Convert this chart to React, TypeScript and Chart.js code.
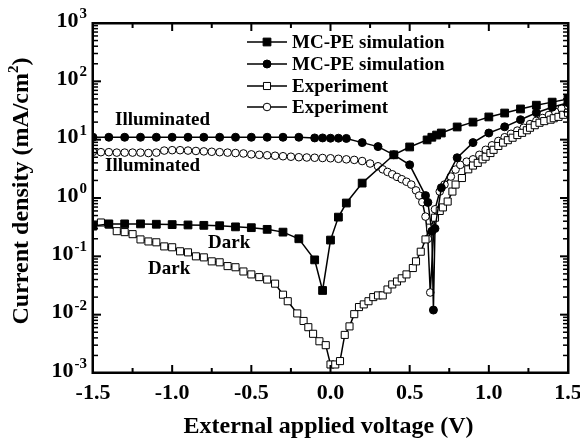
import React, { useEffect, useRef } from 'react';
import { Chart, registerables } from 'chart.js';

Chart.register(...registerables);

// ---------- data ----------
const simDarkV = [-1.5, -1.4, -1.3, -1.2, -1.1, -1.0, -0.9, -0.8, -0.7, -0.6, -0.5, -0.4, -0.3, -0.2, -0.1, -0.05, 0.0, 0.05, 0.1, 0.2, 0.4, 0.5, 0.61, 0.64, 0.67, 0.7, 0.8, 0.9, 1.0, 1.1, 1.2, 1.3, 1.4, 1.5];
const simDarkJ = [0.33, 0.36, 0.36, 0.36, 0.355, 0.35, 0.345, 0.34, 0.335, 0.32, 0.31, 0.29, 0.26, 0.2, 0.087, 0.026, 0.19, 0.47, 0.82, 1.8, 5.5, 7.5, 9.9, 11, 12, 13, 16.5, 20, 24.5, 28.6, 33.6, 39, 44, 50];

const simIllumV = [-1.5, -1.4, -1.3, -1.2, -1.1, -1.0, -0.9, -0.8, -0.7, -0.6, -0.5, -0.4, -0.3, -0.2, -0.1, -0.05, 0.0, 0.05, 0.1, 0.2, 0.3, 0.4, 0.5, 0.6, 0.615, 0.64, 0.65, 0.66, 0.7, 0.8, 0.9, 1.0, 1.1, 1.2, 1.3, 1.4, 1.5];
const simIllumJ = [11, 11, 11, 11, 11, 11, 11, 11, 11, 11, 11, 11, 11, 11, 10.7, 10.7, 10.6, 10.6, 10.5, 8.9, 7.6, 5.5, 3.7, 1.1, 0.84, 0.27, 0.012, 0.3, 1.5, 4.9, 8.9, 13, 16.6, 22, 29, 36, 43];

const expDarkV = [-1.5, -1.45, -1.4, -1.35, -1.3, -1.25, -1.2, -1.15, -1.1, -1.05, -1.0, -0.95, -0.9, -0.85, -0.8, -0.75, -0.7, -0.65, -0.6, -0.55, -0.5, -0.45, -0.4, -0.35, -0.3, -0.27, -0.21, -0.17, -0.14, -0.11, -0.07, -0.03, 0.0, 0.03, 0.06, 0.09, 0.12, 0.15, 0.18, 0.21, 0.24, 0.27, 0.3, 0.33, 0.36, 0.39, 0.42, 0.45, 0.48, 0.52, 0.54, 0.57, 0.6, 0.63, 0.66, 0.69, 0.71, 0.74, 0.77, 0.79, 0.83, 0.87, 0.9, 0.93, 0.96, 0.98, 1.01, 1.03, 1.06, 1.09, 1.12, 1.15, 1.18, 1.21, 1.24, 1.26, 1.29, 1.32, 1.35, 1.39, 1.41, 1.44, 1.47, 1.5];
const expDarkJ = [0.33, 0.38, 0.35, 0.27, 0.26, 0.24, 0.195, 0.18, 0.174, 0.148, 0.143, 0.122, 0.117, 0.1, 0.096, 0.082, 0.079, 0.068, 0.065, 0.055, 0.049, 0.044, 0.04, 0.034, 0.022, 0.017, 0.0105, 0.0078, 0.0061, 0.0047, 0.0035, 0.003, 0.0014, 0.0014, 0.0016, 0.0045, 0.0063, 0.0102, 0.0135, 0.015, 0.017, 0.02, 0.0214, 0.0214, 0.027, 0.033, 0.037, 0.042, 0.049, 0.063, 0.082, 0.12, 0.195, 0.31, 0.46, 0.6, 0.69, 0.87, 1.29, 1.7, 2.2, 3.1, 3.6, 4.0, 4.6, 5.1, 5.9, 6.7, 7.8, 8.9, 9.8, 10.8, 12, 13.1, 14.5, 16, 17.7, 19.5, 20.8, 22, 23.3, 24.6, 26.7, 28.9];

const expIllumV = [-1.5, -1.45, -1.4, -1.35, -1.3, -1.25, -1.2, -1.15, -1.1, -1.05, -1.0, -0.95, -0.9, -0.85, -0.8, -0.75, -0.7, -0.65, -0.6, -0.55, -0.5, -0.45, -0.4, -0.35, -0.3, -0.25, -0.2, -0.15, -0.1, -0.05, 0.0, 0.05, 0.1, 0.15, 0.2, 0.25, 0.3, 0.33, 0.36, 0.39, 0.42, 0.45, 0.48, 0.51, 0.54, 0.56, 0.58, 0.6, 0.615, 0.63, 0.66, 0.69, 0.72, 0.76, 0.79, 0.82, 0.86, 0.9, 0.94, 0.98, 1.02, 1.06, 1.1, 1.14, 1.18, 1.22, 1.26, 1.3, 1.34, 1.38, 1.42, 1.46, 1.5];
const expIllumJ = [6.2, 6.1, 6.1, 6.0, 6.0, 6.0, 6.0, 5.9, 6.0, 6.5, 6.6, 6.6, 6.5, 6.4, 6.3, 6.2, 6.1, 6.0, 5.9, 5.8, 5.6, 5.5, 5.4, 5.3, 5.2, 5.1, 5.0, 4.95, 4.9, 4.85, 4.8, 4.7, 4.6, 4.5, 4.3, 3.9, 3.5, 3.1, 2.8, 2.55, 2.3, 2.1, 1.9, 1.7, 1.35, 1.1, 0.85, 0.48, 0.2, 0.024, 0.64, 1.29, 1.7, 2.33, 3.07, 3.7, 4.2, 4.6, 5.5, 6.7, 8.0, 9.5, 11, 12.6, 14.3, 16, 18.5, 21, 23.5, 26.5, 30, 34, 38];

const yDecades = [0.001, 0.01, 0.1, 1, 10, 100, 1000];

const legendLabels = ['MC-PE simulation', 'MC-PE simulation', 'Experiment', 'Experiment'];
const xTitle = 'External applied voltage (V)';
const yTitleMain = 'Current density (mA/cm';
const yTitleSup = '2';
const yTitleEnd = ')';
const noteIllum = 'Illuminated';
const noteDark = 'Dark';

const FONT = '"Liberation Serif", "Times New Roman", serif';

const pts = (V: number[], J: number[]) => V.map((v, i) => ({ x: v, y: J[i] }));

function drawMarker(ctx: CanvasRenderingContext2D, style: string, filled: boolean, x: number, y: number, r: number) {
  ctx.beginPath();
  if (style === 'rect') {
    const s = r * Math.SQRT1_2;
    ctx.rect(x - s, y - s, 2 * s, 2 * s);
  } else {
    ctx.arc(x, y, r, 0, Math.PI * 2);
  }
  ctx.fillStyle = filled ? '#000' : '#fff';
  ctx.fill();
  ctx.lineWidth = 1;
  ctx.strokeStyle = '#000';
  ctx.stroke();
}

// frame + ticks, drawn after the datasets
const framePlugin = {
  id: 'frameTicks',
  afterDatasetsDraw(chart: any) {
    const ctx: CanvasRenderingContext2D = chart.ctx;
    const a = chart.chartArea;
    const xs = chart.scales.x;
    const ys = chart.scales.y;
    const L = a.left, R = a.right, T = a.top, B = a.bottom;
    ctx.save();
    ctx.fillStyle = 'rgb(0,0,0)';
    ctx.fillRect(L - 1, T - 1, R - L + 2, 2.5);
    ctx.fillRect(L - 1, B - 1.5, R - L + 2, 2.5);
    ctx.fillRect(L - 1.5, T - 1, 2.5, B - T + 2);
    ctx.fillRect(R - 1, T - 1, 2.5, B - T + 2);
    const xt: number[] = xs.ticks.map((t: any) => t.value);
    for (let i = 0; i < xt.length; i++) {
      const px = xs.getPixelForValue(xt[i]);
      ctx.fillRect(px - 1, B - 8, 2, 8);
      ctx.fillRect(px - 1, T, 2, 8);
      if (i < xt.length - 1) {
        const m = xs.getPixelForValue((xt[i] + xt[i + 1]) / 2);
        ctx.fillRect(m - 1, B - 5, 2, 5);
        ctx.fillRect(m - 1, T, 2, 5);
      }
    }
    for (let k = 0; k < yDecades.length; k++) {
      const py = ys.getPixelForValue(yDecades[k]);
      ctx.fillRect(L, py - 1, 8, 2);
      ctx.fillRect(R - 8, py - 1, 8, 2);
      if (k < yDecades.length - 1) {
        for (let m = 2; m <= 9; m++) {
          const pm = ys.getPixelForValue(m * yDecades[k]);
          ctx.fillRect(L, pm - 0.75, 5, 1.5);
          ctx.fillRect(R - 5, pm - 0.75, 5, 1.5);
        }
      }
    }
    ctx.restore();
  },
};

const textPlugin = {
  id: 'decorText',
  afterDraw(chart: any) {
    const ctx: CanvasRenderingContext2D = chart.ctx;
    const a = chart.chartArea;
    const xs = chart.scales.x;
    const ys = chart.scales.y;
    const L = a.left, R = a.right, T = a.top, B = a.bottom;
    ctx.save();

    // x labels
    ctx.fillStyle = '#000';
    ctx.font = `bold 22px ${FONT}`;
    ctx.textAlign = 'center';
    ctx.textBaseline = 'middle';
    for (const t of xs.ticks) {
      const v = t.value;
      const lbl = Math.abs(v) < 1e-9 ? '0.0' : v.toFixed(1);
      ctx.fillText(lbl, xs.getPixelForValue(v), B + 20);
    }

    // y labels
    for (const v of yDecades) {
      const py = ys.getPixelForValue(v);
      const exp = String(Math.round(Math.log10(v)));
      ctx.textAlign = 'left';
      ctx.font = `bold 15px ${FONT}`;
      const we = ctx.measureText(exp).width;
      ctx.font = `bold 22px ${FONT}`;
      const wb = ctx.measureText('10').width;
      const right = L - 6;
      ctx.fillText('10', right - we - wb - 1, py - 2);
      ctx.font = `bold 15px ${FONT}`;
      ctx.fillText(exp, right - we, py - 9);
    }

    // axis titles
    ctx.font = `bold 24px ${FONT}`;
    ctx.textAlign = 'center';
    ctx.fillText(xTitle, (L + R) / 2 - 2, 427);

    ctx.save();
    ctx.translate(22, (T + B) / 2 - 7);
    ctx.rotate(-Math.PI / 2);
    ctx.font = `bold 24px ${FONT}`;
    const w1 = ctx.measureText(yTitleMain).width;
    const w3 = ctx.measureText(yTitleEnd).width;
    ctx.font = `bold 15px ${FONT}`;
    const w2 = ctx.measureText(yTitleSup).width;
    let x0 = -(w1 + w2 + w3) / 2;
    ctx.textAlign = 'left';
    ctx.font = `bold 24px ${FONT}`;
    ctx.fillText(yTitleMain, x0, 0);
    x0 += w1;
    ctx.font = `bold 15px ${FONT}`;
    ctx.fillText(yTitleSup, x0, -8);
    x0 += w2;
    ctx.font = `bold 24px ${FONT}`;
    ctx.fillText(yTitleEnd, x0, 0);
    ctx.restore();

    // annotations
    ctx.fillStyle = '#000';
    ctx.font = `bold 19px ${FONT}`;
    ctx.textAlign = 'left';
    ctx.textBaseline = 'middle';
    ctx.fillText(noteIllum, 115, 120);
    ctx.fillText(noteIllum, 105, 166);
    ctx.fillText(noteDark, 208, 243);
    ctx.fillText(noteDark, 148, 269);

    // legend
    const rowsY = [42, 64, 86, 107];
    chart.data.datasets.forEach((ds: any, i: number) => {
      const y = rowsY[i];
      ctx.fillStyle = '#000';
      ctx.fillRect(247, y - 0.75, 40, 1.5);
      drawMarker(ctx, ds.pointStyle, ds.pointBackgroundColor === '#000', 267, y, ds.pointRadius);
      ctx.fillStyle = '#000';
      ctx.font = `bold 19px ${FONT}`;
      ctx.textAlign = 'left';
      ctx.textBaseline = 'middle';
      ctx.fillText(legendLabels[i], 292, y + 1);
    });

    ctx.restore();
  },
};

export default function App() {
  const ref = useRef<HTMLCanvasElement | null>(null);
  useEffect(() => {
    document.body.style.margin = '0';
    const canvas = ref.current;
    if (!canvas) return;
    const common = { borderColor: '#000', borderWidth: 1.5, pointBorderColor: '#000', pointBorderWidth: 1, tension: 0, fill: false };
    const chart = new Chart(canvas, {
      type: 'line',
      data: {
        datasets: [
          { ...common, label: legendLabels[0], data: pts(simDarkV, simDarkJ), pointStyle: 'rect', pointRadius: 5.5, pointBackgroundColor: '#000' },
          { ...common, label: legendLabels[1], data: pts(simIllumV, simIllumJ), pointStyle: 'circle', pointRadius: 4, pointBackgroundColor: '#000' },
          { ...common, label: legendLabels[2], data: pts(expDarkV, expDarkJ), pointStyle: 'rect', pointRadius: 5, pointBackgroundColor: '#fff' },
          { ...common, label: legendLabels[3], data: pts(expIllumV, expIllumJ), pointStyle: 'circle', pointRadius: 3.8, pointBackgroundColor: '#fff' },
        ] as any,
      },
      options: {
        responsive: false,
        animation: false,
        layout: { padding: { left: 0, right: 12, top: 23, bottom: 0 } },
        plugins: { legend: { display: false }, tooltip: { enabled: false } },
        scales: {
          x: {
            type: 'linear', min: -1.5, max: 1.5,
            ticks: { stepSize: 0.5, display: false },
            grid: { display: false },
            border: { display: true, color: '#000', width: 2 },
            afterFit: (s: any) => { s.height = 67; },
          },
          y: {
            type: 'logarithmic', min: 0.001, max: 1000,
            ticks: { display: false },
            grid: { display: false },
            border: { display: true, color: '#000', width: 2 },
            afterFit: (s: any) => { s.width = 93; },
          },
        },
      } as any,
      plugins: [framePlugin, textPlugin],
    });
    return () => chart.destroy();
  }, []);
  return (
    <div style={{ width: 580, height: 440 }}>
      <canvas ref={ref} width={580} height={440} style={{ display: 'block' }} />
    </div>
  );
}
